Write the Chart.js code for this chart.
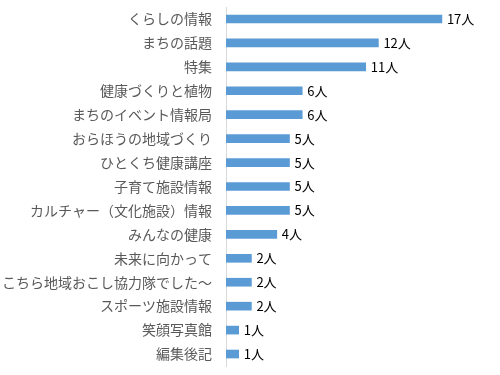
<!DOCTYPE html>
<html>
<head>
<meta charset="utf-8">
<script src="https://cdn.jsdelivr.net/npm/chart.js@4"></script>
<style>
  html, body { margin: 0; padding: 0; background: #fff; }
  #wrap { width: 500px; height: 375px; position: relative; }
</style>
</head>
<body>
<div id="wrap"><canvas id="c" width="500" height="375"></canvas></div>
<script>
const categories = [
  "くらしの情報", "まちの話題", "特集", "健康づくりと植物", "まちのイベント情報局",
  "おらほうの地域づくり", "ひとくち健康講座", "子育て施設情報", "カルチャー（文化施設）情報",
  "みんなの健康", "未来に向かって", "こちら地域おこし協力隊でした～", "スポーツ施設情報",
  "笑顔写真館", "編集後記"
];
const values = [17, 12, 11, 6, 6, 5, 5, 5, 5, 4, 2, 2, 2, 1, 1];
const unitSuffix = "人";

const FONT = '"Noto Sans CJK JP", "Noto Sans", sans-serif';

const valueLabels = {
  id: 'valueLabels',
  afterDatasetsDraw(chart) {
    const ctx = chart.ctx;
    const meta = chart.getDatasetMeta(0);
    ctx.save();
    ctx.font = '13px ' + FONT;
    ctx.fillStyle = '#000000';
    ctx.textAlign = 'left';
    ctx.textBaseline = 'middle';
    meta.data.forEach((bar, i) => {
      ctx.fillText(values[i] + unitSuffix, bar.x + 5, bar.y);
    });
    ctx.restore();
  }
};

new Chart(document.getElementById('c'), {
  type: 'bar',
  data: {
    labels: categories,
    datasets: [{
      data: values,
      backgroundColor: '#5B9BD5',
      borderWidth: 0,
      barThickness: 8
    }]
  },
  options: {
    indexAxis: 'y',
    responsive: false,
    animation: false,
    devicePixelRatio: 1,
    layout: { padding: { left: 0, right: 20, top: 7, bottom: 9 } },
    plugins: { legend: { display: false }, tooltip: { enabled: false } },
    scales: {
      x: { display: false, min: 0, max: 20 },
      y: {
        afterFit(scale) { scale.width = 226; scale.paddingTop = 0; scale.paddingBottom = 0; },
        grid: { drawOnChartArea: false, drawTicks: false },
        border: { display: true, color: '#D9D9D9', width: 1 },
        ticks: {
          padding: 14,
          color: '#595959',
          font: { family: FONT, size: 14 }
        }
      }
    }
  },
  plugins: [valueLabels]
});
</script>
</body>
</html>
